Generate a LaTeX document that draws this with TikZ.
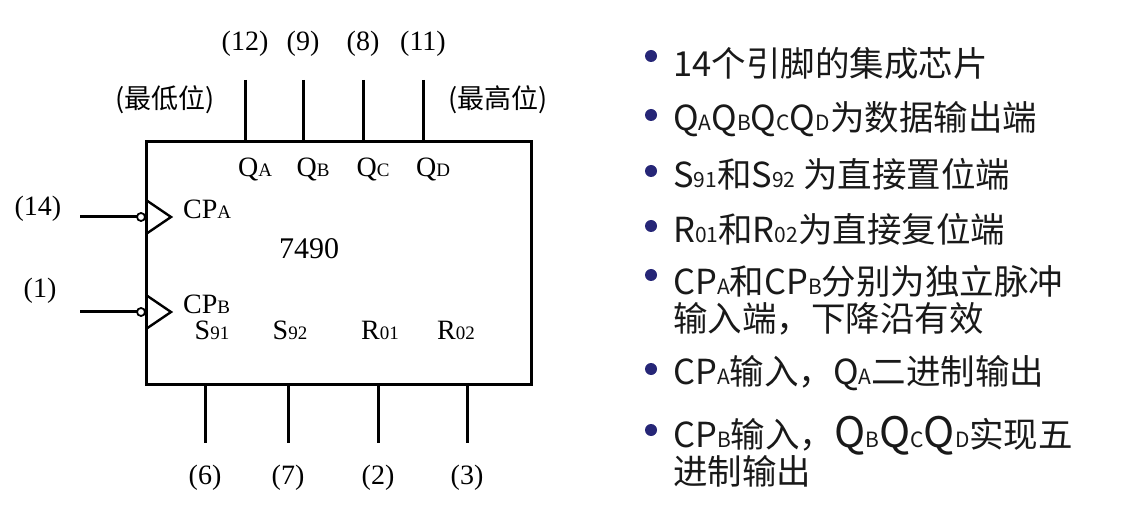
\documentclass[tikz,border=0pt]{standalone}
\usepackage{fontspec}
\setmainfont{Liberation Serif}
\newfontfamily\cjk{Noto Sans CJK SC}
\begin{document}
\begin{tikzpicture}[x=1pt,y=-1pt,
  pin/.style={line width=3pt},
  lab/.style={font=\fontsize{28}{28}\selectfont, inner sep=0pt},
  bul/.style={font=\cjk\fontsize{34.5}{37}\selectfont, anchor=west, inner sep=0pt, text=black!90, align=left},
  dot/.style={circle, fill=blue!45!black!70!gray, inner sep=0pt, minimum size=12pt}]
\useasboundingbox (0,0) rectangle (1142,518);
\newcommand{\sm}[1]{{\fontsize{19}{19}\selectfont #1}}
\node[draw, line width=3pt, minimum width=385pt, minimum height=243pt, anchor=north west, inner sep=0pt] (box) at (145,140) {};
% top pins
\foreach \x/\n/\q/\s in {245/12/Q/A,303/9/Q/B,363/8/Q/C,423/11/Q/D}{
  \coordinate (t\n) at (\x,80);
  \draw[pin] (t\n) -- (\x,140);
  \node[lab] at (\x,44) {(\n)};
  \node[lab] at (\x+10,170) {\q\sm{\s}};
}
\node[lab, font=\cjk\fontsize{27}{27}\selectfont] at (165,100) {(最低位)};
\node[lab, font=\cjk\fontsize{27}{27}\selectfont] at (498,100) {(最高位)};
% bottom pins
\foreach \x/\n in {205/6,288/7,378/2,467/3}{
  \coordinate (b\n) at (\x,443);
  \draw[pin] (\x,383) -- (b\n);
  \node[lab] at (\x,478) {(\n)};
}
\node[lab] at (212,330) {S\sm{91}};
\node[lab] at (290,330) {S\sm{92}};
\node[lab] at (380,330) {R\sm{01}};
\node[lab] at (456,330) {R\sm{02}};
% clock inputs
\foreach \y/\n/\l/\s in {217/14/CP/A,312/1/CP/B}{
  \coordinate (i\n) at (80,\y);
  \draw[pin] (i\n) -- (137,\y);
  \draw[line width=1.8pt, fill=white] (141,\y) circle (4pt);
  \draw[line width=2.4pt] (146,\y-17) -- (171,\y) -- (146,\y+17);
  \node[lab, anchor=west] at (183,\y-8) {\l\sm{\s}};
}
\node[lab] at (38,209) {(14)};
\node[lab] at (40,291) {(1)};
\node[lab, font=\fontsize{30}{30}\selectfont] at (309,249) {7490};
% bullets
\newcommand{\bs}[1]{{\fontsize{21}{21}\selectfont #1}}
\foreach \y in {56,115,171,226,275,369,430} \node[dot] at (651,\y) {};
\node[bul] at (673,63) {14个引脚的集成芯片};
\node[bul] at (673,119) {Q\bs{A}Q\bs{B}Q\bs{C}Q\bs{D}为数据输出端};
\node[bul] at (673,174) {S\bs{91}和S\bs{92} 为直接置位端};
\node[bul] at (673,229) {R\bs{01}和R\bs{02}为直接复位端};
\node[bul] at (673,300) {CP\bs{A}和CP\bs{B}分别为独立脉冲\\输入端，下降沿有效};
\node[bul] at (673,373) {CP\bs{A}输入，Q\bs{A}二进制输出};
\node[bul] at (673,452) {CP\bs{B}输入，{\fontsize{42}{42}\selectfont Q}\bs{B}{\fontsize{42}{42}\selectfont Q}\bs{C}{\fontsize{42}{42}\selectfont Q}\bs{D}实现五\\进制输出};
\end{tikzpicture}
\end{document}
